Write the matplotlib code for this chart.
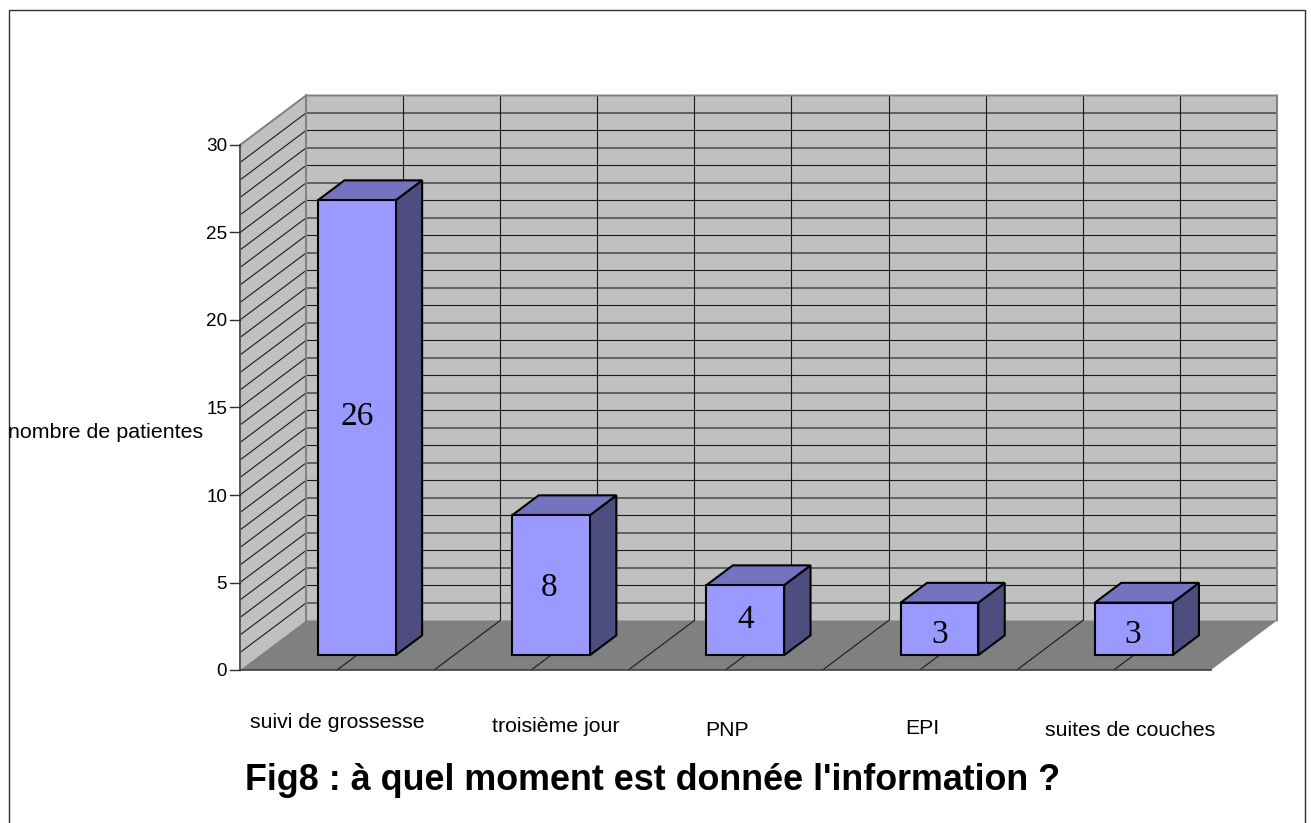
import matplotlib
matplotlib.use("Agg")
import matplotlib.pyplot as plt
from matplotlib.patches import Rectangle, Polygon

categories = ["suivi de grossesse", "troisième jour", "PNP", "EPI", "suites de couches"]
values = [26, 8, 4, 3, 3]
y_ticks = [0, 5, 10, 15, 20, 25, 30]
y_label = "nombre de patientes"
title = "Fig8 : à quel moment est donnée l'information ?"

W, H = 1311, 823
X0, Y0 = 240.0, 670.0
CAT = 194.2
UNIT = 17.5
DX, DY = 66 / CAT, 49.5 / UNIT   # depth vector in data units
YMAX = 30
NCAT = len(categories)

plt.rcParams["font.family"] = "Liberation Sans"
fig = plt.figure(figsize=(W / 100, H / 100), dpi=100, facecolor="white")
ax = fig.add_axes([0, 0, 1, 1])
ax.set_xlim(-X0 / CAT, (W - X0) / CAT)
ax.set_ylim(-(H - Y0) / UNIT, Y0 / UNIT)
ax.axis("off")

def P(c, v, d=0.0):
    return (c + d * DX, v + d * DY)

def px(x, y):
    return ((x - X0) / CAT, (Y0 - y) / UNIT)

WALL, FLOOR, EDGE = "#C0C0C0", "#808080", "#808080"
GRID = "#1a1a1a"

# frame
fx0, fy0 = px(8.5, 10.5)
fx1, fy1 = px(1305.0, 840)
ax.add_patch(Rectangle((fx0, fy1), fx1 - fx0, fy0 - fy1, fc="white", ec="#303030", lw=1.0, zorder=0))

# walls
ax.add_patch(Polygon([P(0, 0), P(0, YMAX), P(0, YMAX, 1), P(0, 0, 1)], fc=WALL, ec="none", zorder=1))
ax.add_patch(Polygon([P(0, 0, 1), P(0, YMAX, 1), P(NCAT, YMAX, 1), P(NCAT, 0, 1)], fc=WALL, ec="none", zorder=1))

# grid
for v in range(1, YMAX):
    a, b, c = P(0, v), P(0, v, 1), P(NCAT, v, 1)
    ax.plot([a[0], b[0], c[0]], [a[1], b[1], c[1]], color=GRID, lw=0.8, zorder=2, solid_joinstyle="miter")
for k in range(1, 2 * NCAT):
    a, b = P(k / 2, 0, 1), P(k / 2, YMAX, 1)
    ax.plot([a[0], b[0]], [a[1], b[1]], color=GRID, lw=0.8, zorder=2)

# wall borders
bx = [P(0, 0), P(0, YMAX), P(0, YMAX, 1), P(NCAT, YMAX, 1), P(NCAT, 0, 1)]
ax.plot(*zip(*bx), color=EDGE, lw=1.4, zorder=3, solid_joinstyle="miter")
a, b = P(0, 0, 1), P(0, YMAX, 1)
ax.plot([a[0], b[0]], [a[1], b[1]], color=EDGE, lw=1.4, zorder=3)

# floor
ax.add_patch(Polygon([P(0, 0), P(0, 0, 1), P(NCAT, 0, 1), P(NCAT, 0)], fc=FLOOR, ec="none", zorder=4))
for k in range(1, 2 * NCAT):
    a, b = P(k / 2, 0), P(k / 2, 0, 1)
    ax.plot([a[0], b[0]], [a[1], b[1]], color=GRID, lw=0.8, zorder=5)
a, b = P(0, 0), P(NCAT, 0)
ax.plot([a[0], b[0]], [a[1], b[1]], color="#404040", lw=1.2, zorder=5)

# y axis ticks and labels
a, b = P(0, 0), P(0, YMAX)
ax.plot([a[0], b[0]], [a[1], b[1]], color="#505050", lw=1.2, zorder=6)
for v in y_ticks:
    ax.plot([-10 / CAT, 0], [v, v], color="#303030", lw=1.0, zorder=6)
    ax.text(-13 / CAT, v, str(v), ha="right", va="center_baseline", fontsize=13.6, color="black")

# bars
BW = 0.4
D0, D1 = 0.3, 0.7
FRONT, TOP, SIDE = "#9999FF", "#7373BF", "#4D4D80"
label_heights = [13.62, 3.85, 2.05, 1.15, 1.15]
label_shift_px = [0.5, -2.5, 0.5, 0.5, -1.5]
for i, val in enumerate(values):
    l, r = i + 0.5 - BW / 2, i + 0.5 + BW / 2
    kw = dict(ec="black", lw=1.5, joinstyle="miter", zorder=10 + i)
    ax.add_patch(Polygon([P(r, 0, D0), P(r, val, D0), P(r, val, D1), P(r, 0, D1)], fc=SIDE, **kw))
    ax.add_patch(Polygon([P(l, val, D0), P(l, val, D1), P(r, val, D1), P(r, val, D0)], fc=TOP, **kw))
    ax.add_patch(Polygon([P(l, 0, D0), P(l, val, D0), P(r, val, D0), P(r, 0, D0)], fc=FRONT, **kw))
    tx, ty = P(i + 0.5, label_heights[i], D0)
    ax.text(tx + label_shift_px[i] / CAT, ty, str(val), ha="center", va="center", fontsize=24.0,
            family="Liberation Serif", color="black", zorder=30)

# category labels (hand-placed in the reference)
cat_label_pos = [(337, 722), (556, 727), (727, 731), (922, 729), (1130, 731)]
for name, (x, y) in zip(categories, cat_label_pos):
    tx, ty = px(x, y)
    ax.text(tx, ty, name, ha="center", va="center", fontsize=15.3, color="black")

tx, ty = px(106, 433)
ax.text(tx, ty, y_label, ha="center", va="center", fontsize=15.4, color="black")
tx, ty = px(653, 781)
ax.text(tx, ty, title, ha="center", va="center", fontsize=25.85, fontweight="bold", color="black")

fig.savefig("out.png", dpi=100, facecolor="white")
